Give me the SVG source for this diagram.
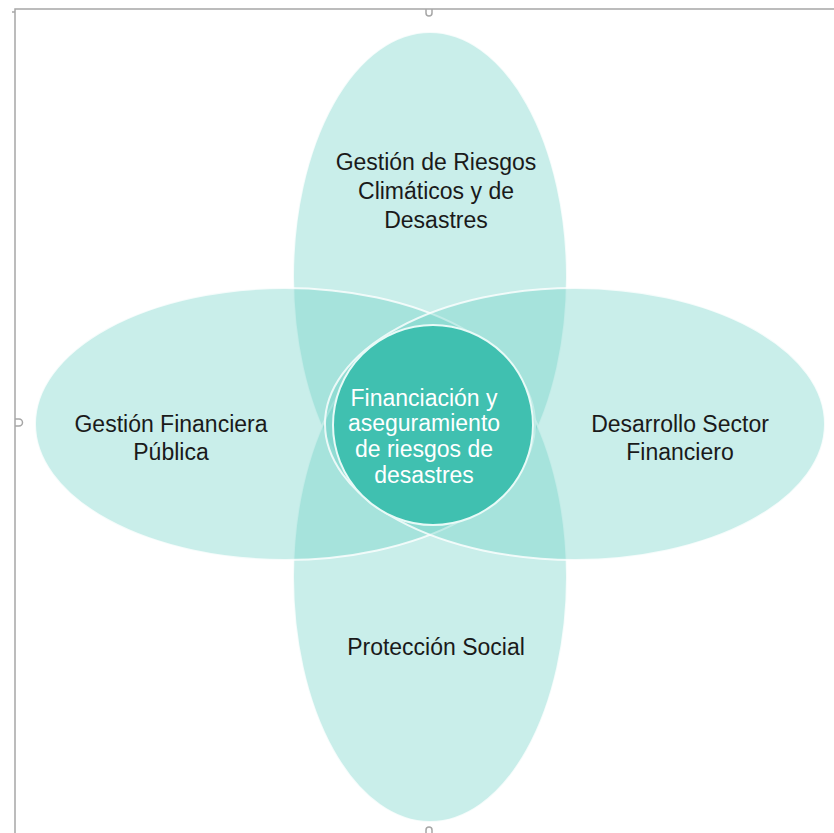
<svg xmlns="http://www.w3.org/2000/svg" width="834" height="833" viewBox="0 0 834 833">
  <style>
    .frame { fill: none; stroke: #a6a6a6; stroke-width: 1.5; }
    .petal { fill: #68d0c5; fill-opacity: 0.36; stroke: #ffffff; stroke-opacity: 0.8; stroke-width: 2; }
    .core { fill: #40c0b0; stroke: #e8faf7; stroke-width: 2; }
    .dark { font-family: "Liberation Sans", Arial, sans-serif; font-size: 23px; fill: #1a1a1a; text-anchor: middle; }
    .light { font-family: "Liberation Sans", Arial, sans-serif; font-size: 23px; fill: #ffffff; text-anchor: middle; }
  </style>
  <rect width="834" height="833" fill="#ffffff"/>
  <g id="frame">
    <path class="frame" d="M15,833 V9 H834"/>
    <path class="frame" d="M15,12 h-3 M426,9 v4 a3,3 0 0 0 6,0 v-4 M15,419 h4 a3,3 0 0 1 0,7 h-4 M426,833 v-3 a3,3 0 0 1 6,0 v3"/>
  </g>
  <g id="petal-top">
    <ellipse class="petal" cx="430" cy="277" rx="137" ry="245"/>
  </g>
  <g id="petal-bottom">
    <ellipse class="petal" cx="430" cy="577" rx="137" ry="245"/>
  </g>
  <g id="petal-left">
    <ellipse class="petal" cx="285" cy="424" rx="250" ry="136"/>
  </g>
  <g id="petal-right">
    <ellipse class="petal" cx="575" cy="424" rx="250" ry="136"/>
  </g>
  <g id="core">
    <circle class="core" cx="433" cy="425" r="100"/>
  </g>
  <g id="connectors"></g>
  <g id="labels">
    <text class="dark" x="436" y="170">Gestión de Riesgos</text>
    <text class="dark" x="436" y="199">Climáticos y de</text>
    <text class="dark" x="436" y="228">Desastres</text>
    <text class="dark" x="171" y="432">Gestión Financiera</text>
    <text class="dark" x="171" y="460">Pública</text>
    <text class="dark" x="680" y="432">Desarrollo Sector</text>
    <text class="dark" x="680" y="460">Financiero</text>
    <text class="dark" x="436" y="655">Protección Social</text>
    <text class="light" x="424" y="406">Financiación y</text>
    <text class="light" x="424" y="431">aseguramiento</text>
    <text class="light" x="424" y="457">de riesgos de</text>
    <text class="light" x="424" y="483">desastres</text>
  </g>
</svg>
